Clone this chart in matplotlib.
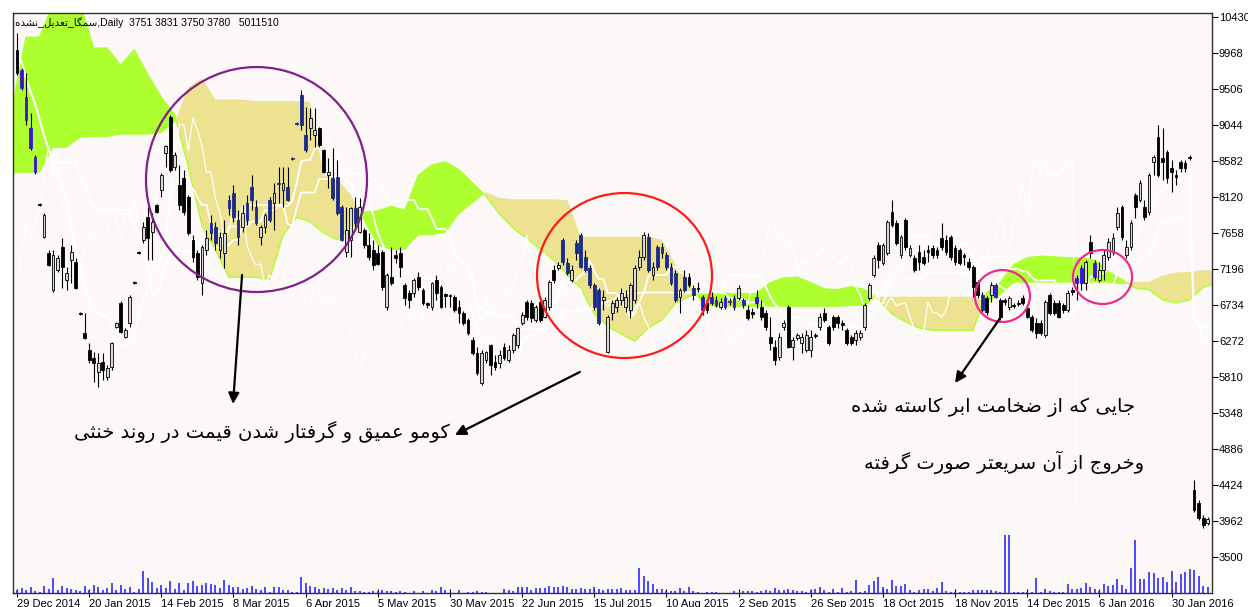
import matplotlib
matplotlib.use('Agg')
import matplotlib.pyplot as plt
from matplotlib.patches import Ellipse
import numpy as np
import pandas as pd

# daily bars (price)
opens = [10006, 9750, 9403, 9005, 8633, 8031, 7607, 7402, 6927, 7183,
         7478, 7055, 7312, 7286, 6632, 6375, 6157, 6054, 5874, 6003,
         5810, 5939, 6452, 6760, 6324, 6503, 7029, 7414, 7568, 7863,
         7671, 8018, 8210, 8685, 9147, 8505, 8274, 8364, 8120, 7568,
         7402, 7016, 7440, 7786, 7735, 7440, 7402, 8082, 8172, 7825,
         7735, 8044, 8249, 7992, 7607, 7735, 8082, 8044, 8300, 8210,
         8249, 8621, 9070, 9429, 8916, 9005, 8916, 9005, 8723, 8402,
         8364, 8377, 7992, 7414, 7568, 7979, 7671, 7697, 7504, 7440,
         7402, 7414, 6708, 7094, 7376, 7402, 6991, 6888, 6888, 7094,
         6927, 6760, 6708, 7055, 6965, 6875, 6862, 6837, 6708, 6632,
         6542, 6285, 6118, 5733, 6028, 6221, 6003, 5990, 6195, 6028,
         6157, 6221, 6503, 6773, 6760, 6542, 6773, 6580, 6708, 7183,
         7209, 7568, 7273, 7055, 7530, 7632, 7350, 7209, 6991, 6927,
         6798, 6131, 6632, 6708, 6798, 6708, 6670, 6798, 7222, 7350,
         7607, 7119, 7478, 7478, 7376, 7222, 7145, 6837, 7094, 7094,
         6952, 6952, 6837, 6760, 6837, 6798, 6708, 6824, 6786, 6824,
         6824, 6798, 6670, 6644, 6837, 6708, 6632, 6324, 6195, 6067,
         6452, 6708, 6195, 6311, 6247, 6157, 6157, 6349, 6452, 6632,
         6452, 6580, 6580, 6503, 6413, 6324, 6285, 6324, 6452, 6824,
         7119, 7504, 7273, 7402, 7928, 7786, 7376, 7825, 7376, 7337,
         7414, 7350, 7440, 7465, 7440, 7594, 7568, 7607, 7465, 7440,
         7376, 7286, 7222, 7029, 6862, 6824, 6862, 6991, 6798, 6798,
         6708, 6734, 6760, 6824, 6696, 6580, 6503, 6503, 6349, 6862,
         6760, 6760, 6734, 6670, 6927, 7081, 7209, 7016, 7543, 7273,
         7055, 7183, 7350, 7414, 7735, 7992, 7376, 7478, 8146, 8082,
         7992, 7928, 8569, 8890, 8621, 8697, 8492, 8402, 8569, 8556,
         8633, 4360, 4192, 4000, 3936]
highs = [10224, 9775, 9711, 9198, 8659, 8044, 7915, 7440, 7440, 7376,
         7594, 7222, 7504, 7337, 6644, 6632, 6247, 6131, 6118, 6118,
         5964, 6260, 6516, 6780, 6439, 6862, 7042, 7427, 7799, 7992,
         7915, 8031, 8428, 8787, 9172, 8697, 8531, 8467, 8146, 7632,
         7440, 7504, 7697, 7889, 7799, 7671, 7825, 8146, 8274, 7953,
         8018, 8146, 8402, 8082, 7761, 7915, 8120, 8300, 8505, 8505,
         8505, 8633, 9083, 9493, 9275, 9262, 9262, 9020, 8740, 8621,
         8749, 8595, 8018, 7992, 7992, 8120, 8107, 7722, 7658, 7568,
         7504, 7440, 7145, 7478, 7440, 7478, 7016, 6927, 7081, 7158,
         6952, 6773, 7029, 7119, 6991, 6888, 6875, 6862, 6798, 6657,
         6567, 6324, 6195, 6157, 6144, 6235, 6093, 6157, 6247, 6221,
         6375, 6452, 6644, 6798, 6798, 6734, 6824, 6837, 7055, 7248,
         7286, 7594, 7337, 7248, 7568, 7658, 7440, 7248, 7016, 6952,
         6927, 6606, 6798, 6837, 6952, 6927, 7016, 7248, 7440, 7671,
         7658, 7286, 7504, 7530, 7414, 7273, 7183, 6952, 7183, 7145,
         6991, 7029, 6862, 6798, 6901, 6850, 6824, 6862, 6824, 6862,
         6991, 6824, 6734, 6696, 6927, 6798, 6670, 6580, 6285, 6375,
         6542, 6734, 6324, 6375, 6375, 6413, 6413, 6375, 6632, 6696,
         6478, 6606, 6606, 6542, 6439, 6349, 6413, 6413, 6760, 7016,
         7376, 7543, 7530, 7825, 8082, 7825, 7632, 7850, 7504, 7376,
         7504, 7440, 7504, 7504, 7478, 7786, 7632, 7632, 7504, 7465,
         7402, 7337, 7248, 7055, 6901, 6850, 7029, 7016, 6824, 6824,
         6850, 6760, 6798, 6862, 6734, 6606, 6567, 6542, 6798, 6888,
         6798, 6798, 6760, 6927, 6965, 7119, 7248, 7312, 7632, 7312,
         7286, 7440, 7594, 7658, 7992, 8018, 7568, 7825, 8172, 8338,
         8082, 8428, 8659, 9044, 9005, 8723, 8595, 8467, 8595, 8595,
         8659, 4488, 4231, 4039, 4013]
lows = [9686, 9493, 9044, 8723, 8416, 8005, 7594, 7235, 6901, 7158,
        6952, 6927, 7016, 6939, 6606, 6298, 5990, 5746, 5682, 5772,
        5772, 5900, 6439, 6375, 6311, 6452, 7004, 7389, 7530, 7312,
        7312, 7915, 8120, 8505, 8441, 8467, 7953, 7889, 7632, 7286,
        7055, 6862, 7376, 7568, 7440, 7337, 7209, 7889, 7799, 7504,
        7671, 7761, 7953, 7761, 7504, 7658, 7799, 7697, 8044, 7992,
        8070, 8595, 9044, 8980, 8697, 8851, 8762, 8762, 8428, 8236,
        8082, 7889, 7555, 7350, 7350, 7697, 7658, 7465, 7312, 7183,
        7248, 6927, 6670, 6991, 7273, 7094, 6734, 6696, 6837, 6927,
        6734, 6696, 6670, 6798, 6696, 6708, 6708, 6644, 6503, 6478,
        6349, 6093, 5836, 5708, 5990, 5836, 5900, 5926, 6028, 6003,
        6118, 6182, 6478, 6542, 6516, 6516, 6516, 6567, 6670, 7016,
        7183, 7248, 7119, 7029, 7312, 7209, 7158, 6952, 6670, 6478,
        6670, 6118, 6542, 6644, 6734, 6644, 6567, 6760, 7183, 7312,
        7158, 7055, 7183, 7337, 7183, 6991, 6773, 6632, 6901, 6965,
        6798, 6901, 6606, 6632, 6734, 6708, 6683, 6683, 6734, 6670,
        6798, 6696, 6542, 6567, 6696, 6542, 6413, 6157, 5964, 6028,
        6413, 6182, 6028, 6285, 6118, 6131, 6067, 6311, 6413, 6516,
        6221, 6413, 6439, 6413, 6221, 6221, 6221, 6285, 6413, 6798,
        7094, 7209, 7248, 7376, 7735, 7504, 7337, 7440, 7350, 7158,
        7183, 7248, 7286, 7337, 7337, 7440, 7376, 7312, 7248, 7248,
        7248, 7183, 6837, 6824, 6644, 6606, 6773, 6824, 6542, 6734,
        6670, 6696, 6721, 6734, 6567, 6388, 6311, 6349, 6324, 6606,
        6606, 6567, 6632, 6644, 6862, 6798, 6927, 6927, 7337, 7055,
        7029, 7055, 7312, 7376, 7697, 7568, 7337, 7440, 7850, 8056,
        7825, 7889, 8402, 8377, 8338, 8300, 8184, 8274, 8441, 8441,
        8595, 4077, 3975, 3872, 3910]
closes = [9711, 9519, 9108, 8748, 8441, 8018, 7889, 7248, 7376, 7337,
          7222, 7145, 7414, 6952, 6619, 6311, 6028, 5990, 5990, 5900,
          5926, 6247, 6503, 6388, 6413, 6837, 7016, 7402, 7736, 7594,
          7799, 7928, 8402, 8774, 8467, 8659, 8018, 7928, 7658, 7350,
          7094, 7478, 7594, 7658, 7530, 7607, 7658, 7979, 7863, 7607,
          7915, 7825, 8082, 7786, 7735, 7889, 7825, 8172, 8287, 8300,
          8082, 8608, 9057, 9044, 8723, 9134, 8980, 8787, 8441, 8441,
          8107, 7915, 7568, 7697, 7979, 7786, 7992, 7504, 7350, 7248,
          7261, 6965, 7119, 7016, 7337, 7222, 6824, 6798, 7055, 6965,
          6760, 6734, 7016, 6888, 6708, 6850, 6850, 6670, 6632, 6503,
          6375, 6118, 5862, 6118, 6131, 5964, 5939, 6093, 6054, 6157,
          6349, 6439, 6606, 6580, 6567, 6708, 6542, 6798, 7029, 7055,
          7248, 7286, 7145, 7183, 7402, 7222, 7183, 6991, 6708, 6503,
          6837, 6580, 6760, 6798, 6888, 6837, 6991, 7209, 7350, 7632,
          7183, 7222, 7222, 7402, 7222, 7016, 6798, 6927, 6927, 6991,
          6862, 6939, 6670, 6670, 6760, 6734, 6773, 6708, 6773, 6708,
          6952, 6734, 6567, 6619, 6760, 6580, 6452, 6247, 6028, 6324,
          6503, 6195, 6285, 6349, 6324, 6349, 6324, 6337, 6580, 6542,
          6247, 6452, 6503, 6478, 6247, 6247, 6375, 6375, 6734, 6991,
          7337, 7312, 7504, 7799, 7761, 7530, 7607, 7478, 7465, 7183,
          7286, 7273, 7414, 7376, 7376, 7478, 7414, 7350, 7286, 7273,
          7350, 7222, 6965, 6862, 6670, 6644, 6991, 6837, 6580, 6773,
          6824, 6721, 6747, 6760, 6580, 6413, 6375, 6375, 6773, 6632,
          6632, 6580, 6670, 6888, 6901, 7016, 7016, 7286, 7402, 7094,
          7183, 7376, 7543, 7594, 7915, 7607, 7478, 7786, 7992, 8300,
          7863, 8402, 8633, 8402, 8569, 8364, 8441, 8377, 8492, 8492,
          8621, 4103, 4000, 3910, 3987]

# volume, millions of shares
volume_m = [2.5, 4.2, 2.5, 5.0, 1.7, 0.8, 5.8, 3.3, 12.5, 2.5,
            5.8, 4.2, 3.3, 2.5, 1.7, 5.8, 2.5, 6.6, 5.0, 2.5,
            4.2, 8.3, 2.5, 6.6, 3.3, 5.0, 0.8, 3.3, 18.3, 12.5,
            9.1, 4.2, 6.6, 4.2, 10.0, 3.3, 8.3, 2.5, 8.3, 10.0,
            5.8, 6.6, 8.3, 7.5, 6.6, 4.2, 10.8, 6.6, 5.0, 5.0,
            3.3, 4.2, 5.8, 3.3, 2.5, 5.0, 0.8, 5.0, 5.0, 2.5,
            2.5, 0.8, 0.8, 13.3, 8.3, 5.8, 5.0, 3.3, 4.2, 3.3,
            4.2, 2.5, 4.2, 2.5, 5.0, 1.7, 1.7, 0.8, 0.8, 1.7,
            1.7, 2.5, 1.7, 1.7, 0.8, 1.7, 0.8, 0.3, 1.7, 0.3,
            1.7, 0.3, 2.5, 1.7, 5.0, 2.5, 0.3, 0.3, 2.5, 0.3,
            0.8, 0.8, 1.7, 0.8, 0.8, 0.3, 0.3, 0.3, 3.3, 2.5,
            1.7, 5.0, 5.0, 5.0, 2.5, 4.2, 4.2, 4.2, 5.8, 5.0,
            5.0, 5.8, 5.0, 3.3, 3.3, 4.2, 3.3, 3.3, 5.0, 3.3,
            2.5, 3.3, 3.3, 3.3, 4.2, 2.5, 2.5, 2.5, 20.8, 14.1,
            10.0, 7.5, 3.3, 3.3, 1.7, 1.7, 1.7, 4.2, 1.7, 5.0,
            1.7, 0.8, 0.3, 0.8, 0.8, 0.8, 0.3, 0.3, 0.3, 1.7,
            0.3, 1.7, 1.7, 1.7, 0.8, 1.7, 2.5, 1.7, 4.2, 2.5,
            2.5, 3.3, 2.5, 1.7, 1.7, 0.8, 2.5, 3.3, 5.0, 2.5,
            0.8, 3.3, 0.8, 4.2, 0.8, 1.7, 10.8, 0.8, 1.7, 6.6,
            10.0, 13.3, 5.0, 3.3, 10.8, 5.8, 5.8, 7.5, 2.5, 0.8,
            2.5, 3.3, 3.3, 1.7, 4.2, 9.1, 1.7, 0.8, 0.8, 0.8,
            0.8, 0.8, 2.5, 2.5, 2.5, 2.5, 2.5, 1.7, 0.8, 48.1,
            48.1, 0.8, 0.8, 0.8, 0.8, 0.8, 12.5, 0.8, 3.3, 1.7,
            0.8, 0.8, 0.8, 7.5, 3.3, 3.3, 4.2, 8.3, 5.0, 3.3,
            1.7, 7.5, 5.8, 6.6, 11.6, 6.6, 3.3, 20.8, 44.0, 11.6,
            11.6, 17.4, 16.6, 12.5, 13.3, 9.1, 18.3, 9.1, 15.8, 17.4,
            19.9, 19.1, 14.1, 5.8, 5.0]

# ichimoku cloud spans, one value every 3 bars starting one bar before the first candle
span_a = [9300, 10170, 10170, 10600, 10600, 10600, 10030, 10030, 9810, 10010,
          9690, 9400, 9170, 8500, 7760, 7440, 7090, 7090, 7090, 7060,
          7630, 7860, 7800, 7660, 7570, 7700, 7930, 7940, 8000, 7950,
          8400, 8530, 8570, 8470, 8300, 8130, 7900, 7720, 7590, 7450,
          7310, 7120, 6950, 6620, 6460, 6360, 6270, 6440, 6540, 6760,
          6840, 6900, 6890, 6880, 6880, 6880, 7020, 7080, 7090, 7020,
          6940, 6930, 6970, 6930, 6810, 6620, 6520, 6440, 6410, 6410,
          6410, 6410, 6890, 7020, 7250, 7340, 7360, 7350, 7340, 7340,
          7310, 7160, 7060, 6950, 6930, 6800, 6760, 6800, 6960, 7020]
span_b = [8430, 8430, 8430, 8750, 8750, 8880, 8890, 8890, 8920, 8920,
          8920, 8940, 9080, 9530, 9640, 9370, 9370, 9370, 9350, 9350,
          9350, 9350, 9340, 8400, 8360, 8150, 7800, 7500, 7440, 7440,
          7630, 7630, 7660, 7900, 8040, 8180, 8110, 8090, 8090, 8090,
          8090, 8080, 7610, 7610, 7610, 7610, 7610, 7610, 7570, 7250,
          7030, 6730, 6710, 6710, 6710, 6710, 6710, 6710, 6710, 6710,
          6710, 6710, 6720, 6730, 6840, 6840, 6840, 6840, 6840, 6840,
          6840, 6840, 6760, 6860, 7020, 7020, 7020, 7020, 7020, 7020,
          7020, 7020, 7000, 7030, 7030, 7110, 7150, 7160, 7180, 7180]

date_labels = ['29 Dec 2014', '20 Jan 2015', '14 Feb 2015', '8 Mar 2015', '6 Apr 2015',
               '5 May 2015', '30 May 2015', '22 Jun 2015', '15 Jul 2015', '10 Aug 2015',
               '2 Sep 2015', '26 Sep 2015', '18 Oct 2015', '18 Nov 2015', '14 Dec 2015',
               '6 Jan 2016', '30 Jan 2016']
price_ticks = [3500, 3962, 4424, 4886, 5348, 5810, 6272, 6734, 7196, 7658,
               8120, 8582, 9044, 9506, 9968, 10430]

title_fa = 'سمگا_تعدیل_نشده'
title_rest = ',Daily  3751 3831 3750 3780   5011510'
note_left = 'کومو عمیق و گرفتار شدن قیمت در روند خنثی'
note_right1 = 'جایی که از ضخامت ابر کاسته شده'
note_right2 = 'وخروج از آن سریعتر صورت گرفته'

# --- simple persian shaping (matplotlib has no shaping / bidi) ---
FORMS = {
    'ا': 'FE8D FE8E', 'آ': 'FE81 FE82', 'ب': 'FE8F FE90 FE91 FE92',
    'پ': 'FB56 FB57 FB58 FB59', 'ت': 'FE95 FE96 FE97 FE98', 'ث': 'FE99 FE9A FE9B FE9C',
    'ج': 'FE9D FE9E FE9F FEA0', 'چ': 'FB7A FB7B FB7C FB7D', 'ح': 'FEA1 FEA2 FEA3 FEA4',
    'خ': 'FEA5 FEA6 FEA7 FEA8', 'د': 'FEA9 FEAA', 'ذ': 'FEAB FEAC', 'ر': 'FEAD FEAE',
    'ز': 'FEAF FEB0', 'ژ': 'FB8A FB8B', 'س': 'FEB1 FEB2 FEB3 FEB4', 'ش': 'FEB5 FEB6 FEB7 FEB8',
    'ص': 'FEB9 FEBA FEBB FEBC', 'ض': 'FEBD FEBE FEBF FEC0', 'ط': 'FEC1 FEC2 FEC3 FEC4',
    'ظ': 'FEC5 FEC6 FEC7 FEC8', 'ع': 'FEC9 FECA FECB FECC', 'غ': 'FECD FECE FECF FED0',
    'ف': 'FED1 FED2 FED3 FED4', 'ق': 'FED5 FED6 FED7 FED8', 'ک': 'FB8E FB8F FB90 FB91',
    'ك': 'FED9 FEDA FEDB FEDC', 'گ': 'FB92 FB93 FB94 FB95', 'ل': 'FEDD FEDE FEDF FEE0',
    'م': 'FEE1 FEE2 FEE3 FEE4', 'ن': 'FEE5 FEE6 FEE7 FEE8', 'و': 'FEED FEEE',
    'ه': 'FEE9 FEEA FEEB FEEC', 'ی': 'FBFC FBFD FBFE FBFF', 'ي': 'FEF1 FEF2 FEF3 FEF4',
}
FORMS = {k: [chr(int(h, 16)) for h in v.split()] for k, v in FORMS.items()}


def shape_fa(text):
    out = []
    for k, ch in enumerate(text):
        if ch not in FORMS:
            out.append(ch)
            continue
        f = FORMS[ch]
        prev = text[k - 1] if k > 0 else ''
        nxt = text[k + 1] if k + 1 < len(text) else ''
        jp = prev in FORMS and len(FORMS[prev]) == 4
        jn = len(f) == 4 and nxt in FORMS
        if jp and jn:
            out.append(f[3])
        elif jp:
            out.append(f[1])
        elif jn:
            out.append(f[2])
        else:
            out.append(f[0])
    return ''.join(out)[::-1]


# --- figure ---
W, H = 1248, 607
fig = plt.figure(figsize=(W / 100, H / 100), dpi=100, facecolor='white')
ax = fig.add_axes([13 / W, 1 - 593 / H, (1212 - 13) / W, (593 - 13) / H])
ax.set_facecolor('#fcf8f7')

o = np.array(opens, float)
h = np.array(highs, float)
l = np.array(lows, float)
c = np.array(closes, float)
n = len(c)
idx = np.arange(n)

ax.set_xlim(-0.89, 264.97)
ax.set_ylim(3038, 10481)

# cloud
cx = np.arange(len(span_a)) * 3 - 1
sa = np.array(span_a, float)
sb = np.array(span_b, float)
ax.fill_between(cx, sa, sb, where=sa >= sb, interpolate=True, color='#adff2f', lw=0, zorder=1)
ax.fill_between(cx, sa, sb, where=sa < sb, interpolate=True, color='#ece28f', lw=0, zorder=1)
ax.plot(cx, sa, color='#adff2f', lw=1, zorder=1.5)

# tenkan / kijun / chikou from the bars
hs, ls = pd.Series(h), pd.Series(l)
tenkan = (hs.rolling(9, min_periods=1).max() + ls.rolling(9, min_periods=1).min()) / 2
kijun = (hs.rolling(26, min_periods=1).max() + ls.rolling(26, min_periods=1).min()) / 2
ax.plot(idx, tenkan, color='white', lw=1.3, zorder=2)
ax.plot(idx, kijun, color='white', lw=1.3, zorder=2)
ax.plot(idx[:-26], c[26:], color='white', lw=0.9, zorder=2)

# candles
a_i = np.interp(idx, cx, sa)
b_i = np.interp(idx, cx, sb)
mid = (o + c) / 2
in_cloud = (mid >= np.minimum(a_i, b_i)) & (mid <= np.maximum(a_i, b_i))
fill = []
for k in range(n):
    if c[k] >= o[k]:
        fill.append('#d8d8d8')
    elif in_cloud[k]:
        fill.append('#3a14d0' if a_i[k] >= b_i[k] else '#1c2a8a')
    else:
        fill.append('black')
ax.vlines(idx, l, h, color='black', lw=0.8, zorder=3)
ax.bar(idx, np.maximum(np.abs(c - o), 10), bottom=np.minimum(o, c), width=0.62,
       color=fill, edgecolor=['black' if f == '#d8d8d8' else f for f in fill],
       linewidth=0.6, zorder=4)

# annotations
for (xc, yc, ew, eh, col) in [(53.1, 8344, 49.0, 2887, '#80208a'),
                              (134.7, 7112, 38.8, 2117, '#ff1a1a'),
                              (218.5, 6849, 12.2, 667, '#ee2b8c'),
                              (240.7, 7093, 13.1, 693, '#ee2b8c')]:
    ax.add_patch(Ellipse((xc, yc), ew, eh, fill=False, edgecolor=col, lw=1.6, zorder=5))

arrow = dict(arrowstyle='-|>', color='black', lw=1.6, mutation_scale=16, shrinkA=0, shrinkB=0)
ax.annotate('', xy=(47.9, 5464), xytext=(49.9, 7119), arrowprops=arrow, zorder=6)
ax.annotate('', xy=(97.1, 5066), xytext=(124.8, 5874), arrowprops=arrow, zorder=6)
ax.annotate('', xy=(208.0, 5733), xytext=(218.0, 6567), arrowprops=arrow, zorder=6)

ax.text(54.2, 5104, shape_fa(note_left), ha='center', va='center', fontsize=14,
        family='DejaVu Sans', zorder=7)
ax.text(216.3, 5425, shape_fa(note_right1), ha='center', va='center', fontsize=14,
        family='DejaVu Sans', zorder=7)
ax.text(218.8, 4719, shape_fa(note_right2), ha='center', va='center', fontsize=14,
        family='DejaVu Sans', zorder=7)

ax.text(0.002, 0.993, shape_fa(title_fa) + title_rest, transform=ax.transAxes,
        ha='left', va='top', fontsize=7.5, family=['Liberation Sans', 'DejaVu Sans'], zorder=7)

# volume at the bottom
vax = ax.twinx()
vax.vlines(idx, 0, volume_m, color='#2b2bff', lw=1.2)
vax.set_ylim(0, 481)
vax.axis('off')

# axes styling
ax.yaxis.tick_right()
ax.set_yticks(price_ticks)
ax.set_yticklabels([str(t) for t in price_ticks], family='Liberation Sans', fontsize=8)
ax.tick_params(axis='y', direction='out', length=4, width=0.8, pad=1)
ax.set_xticks(np.arange(len(date_labels)) * 16)
ax.set_xticklabels(date_labels, ha='left', family='Liberation Sans', fontsize=8)
ax.tick_params(axis='x', direction='inout', length=6, width=0.8, pad=1)
for s in ax.spines.values():
    s.set_color('#303030')
    s.set_linewidth(1)

fig.savefig('out.png', dpi=100, facecolor='white')
